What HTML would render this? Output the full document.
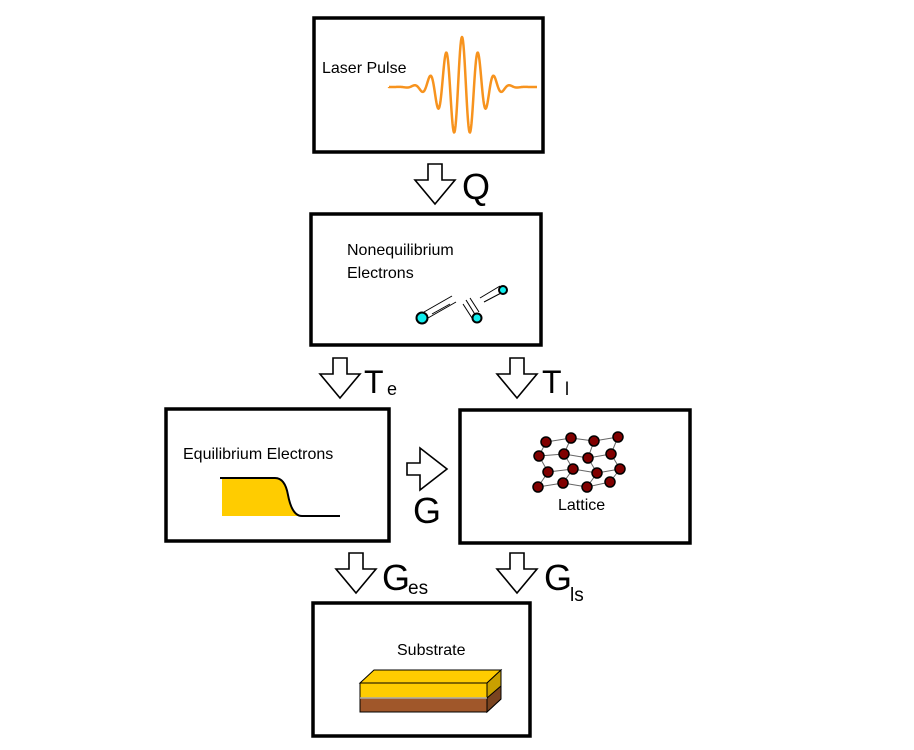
<!DOCTYPE html>
<html><head><style>body{margin:0;background:#fff}svg{display:block}text{font-family:"Liberation Sans",Arial,sans-serif}</style></head><body>
<svg width="914" height="750" viewBox="0 0 914 750" xmlns="http://www.w3.org/2000/svg">
<g fill="none" stroke="#000" stroke-width="3.5">
<rect x="314" y="18" width="229" height="134"/>
<rect x="311" y="214" width="230" height="131"/>
<rect x="166" y="409" width="223" height="132"/>
<rect x="460" y="410" width="230" height="133"/>
<rect x="313" y="603" width="217" height="133"/>
</g>
<defs>
<path id="da" d="M-7,0 H7 V16 H20 L0,40 L-20,16 H-7 Z" fill="#fff" stroke="#000" stroke-width="1.6"/>
</defs>
<use href="#da" x="435" y="164"/>
<use href="#da" x="340" y="358"/>
<use href="#da" x="517" y="358"/>
<use href="#da" x="356" y="553"/>
<use href="#da" x="517" y="553"/>
<path d="M407,463 H420 V448 L447,469 L420,490 V475 H407 Z" fill="#fff" stroke="#000" stroke-width="1.6"/>
<text x="462" y="199" font-size="36">Q</text>
<text x="364" y="393" font-size="32">T</text><text x="387" y="395" font-size="18">e</text>
<text x="542" y="393" font-size="32">T</text><text x="565" y="395" font-size="18">l</text>
<text x="413" y="523" font-size="36">G</text>
<text x="382" y="590" font-size="36">G</text><text x="408" y="594" font-size="19">es</text>
<text x="544" y="590" font-size="36">G</text><text x="570" y="601" font-size="19">ls</text>
<text x="322" y="73" font-size="16">Laser Pulse</text>
<path id="wave" d="M389,87 L537,87" fill="none" stroke="#f7931e" stroke-width="2.5" stroke-linejoin="round"/>
<script>
(function(){var d="M389,87";for(var x=389;x<=537;x+=0.5){var t=x-462;var y=87-50*Math.exp(-(t/26)*(t/26))*Math.cos(2*Math.PI*t/16);d+=" L"+x+","+y.toFixed(2);}document.getElementById("wave").setAttribute("d",d);})();
</script>
<text x="347" y="255" font-size="16">Nonequilibrium</text>
<text x="347" y="278" font-size="16">Electrons</text>
<g stroke="#000" stroke-width="1">
<line x1="424" y1="312" x2="452" y2="296"/><line x1="428" y1="318" x2="456" y2="302"/><line x1="432" y1="314" x2="450" y2="304"/>
<line x1="466" y1="300" x2="476" y2="316"/><line x1="463" y1="304" x2="472" y2="318"/><line x1="470" y1="298" x2="479" y2="312"/>
<line x1="480" y1="298" x2="500" y2="286"/><line x1="484" y1="302" x2="503" y2="292"/>
</g>
<circle cx="422" cy="318" r="5.5" fill="#1ee" stroke="#000" stroke-width="2"/>
<circle cx="477" cy="318" r="4.5" fill="#1ee" stroke="#000" stroke-width="2"/>
<circle cx="503" cy="290" r="4" fill="#1ee" stroke="#000" stroke-width="2"/>
<text x="183" y="459" font-size="16" fill="#000">Equilibrium Electrons</text>
<path d="M222,478 H275 Q285,478 288,495 Q292,516 300,516 H222 Z" fill="#ffcc00"/>
<path d="M220,478 H275 Q285,478 288,495 Q292,516 302,516 H340" fill="none" stroke="#000" stroke-width="2"/>
<g stroke="#666" stroke-width="1" fill="none">
<polyline points="546,442 571,438 594,441 618,437"/>
<polyline points="539,456 564,454 588,458 611,454"/>
<polyline points="548,472 573,469 597,473 620,469"/>
<polyline points="538,487 563,483 587,487 610,482"/>
<polyline points="546,442 539,456 548,472 538,487"/>
<polyline points="571,438 564,454 573,469 563,483"/>
<polyline points="594,441 588,458 597,473 587,487"/>
<polyline points="618,437 611,454 620,469 610,482"/>
</g>
<g fill="#800000" stroke="#000" stroke-width="1.5">
<circle cx="546" cy="442" r="5"/><circle cx="571" cy="438" r="5"/><circle cx="594" cy="441" r="5"/><circle cx="618" cy="437" r="5"/>
<circle cx="539" cy="456" r="5"/><circle cx="564" cy="454" r="5"/><circle cx="588" cy="458" r="5"/><circle cx="611" cy="454" r="5"/>
<circle cx="548" cy="472" r="5"/><circle cx="573" cy="469" r="5"/><circle cx="597" cy="473" r="5"/><circle cx="620" cy="469" r="5"/>
<circle cx="538" cy="487" r="5"/><circle cx="563" cy="483" r="5"/><circle cx="587" cy="487" r="5"/><circle cx="610" cy="482" r="5"/>
</g>
<text x="558" y="510" font-size="16">Lattice</text>
<text x="397" y="655" font-size="16">Substrate</text>
<path d="M360,683 L374,670 H501 L487,683 Z" fill="#ffcc00" stroke="#000" stroke-width="1"/>
<path d="M360,683 H487 V698 H360 Z" fill="#ffcc00" stroke="#000" stroke-width="1"/>
<path d="M360,698 H487 V712 H360 Z" fill="#a0572a" stroke="#000" stroke-width="1"/>
<path d="M487,683 L501,670 V699 L487,712 Z" fill="#c9a000" stroke="#000" stroke-width="1"/>
<path d="M487,698 L501,686 V699 L487,712 Z" fill="#7a4420" stroke="#000" stroke-width="1"/>
<line x1="360" y1="698" x2="487" y2="698" stroke="#aaa" stroke-width="1.5"/>
</svg>
</body></html>
